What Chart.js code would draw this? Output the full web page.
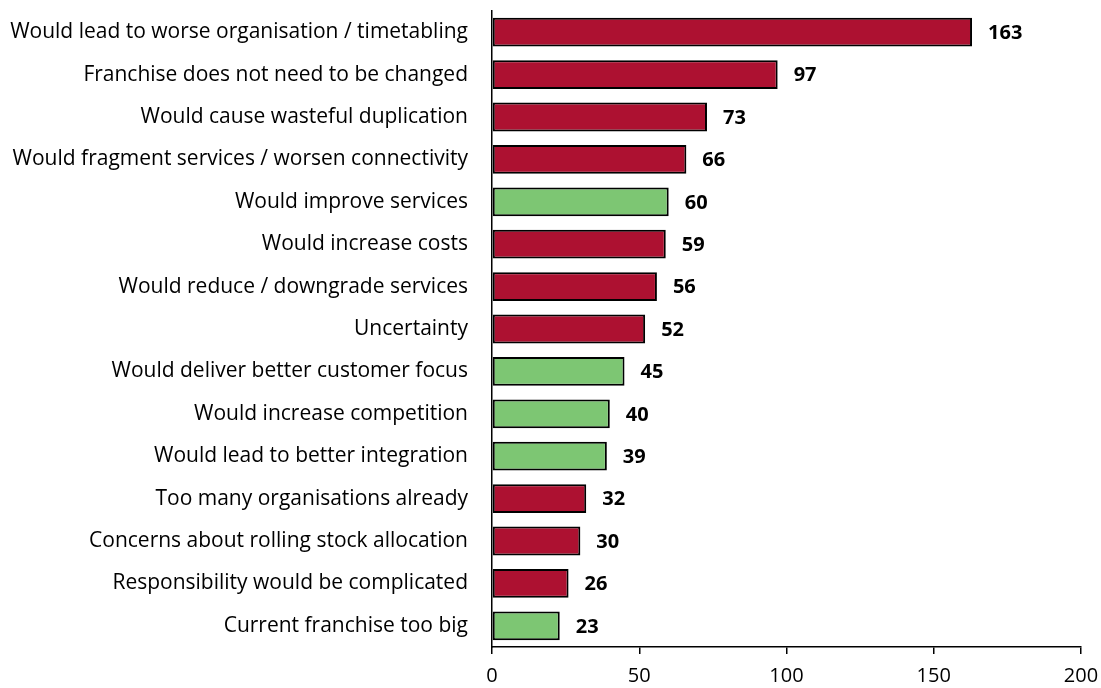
<!DOCTYPE html>
<html lang="en">
<head>
    <meta charset="UTF-8">
    <title>Reasons given about the franchise change</title>
    <script src="https://cdn.jsdelivr.net/npm/chart.js"></script>
    <style>
        html, body { margin: 0; padding: 0; background: #fff; }
        #chartContainer { width: 1101px; height: 688px; position: relative; }
    </style>
</head>
<body>
    <div id="chartContainer">
        <canvas id="reasonsChart"></canvas>
    </div>

    <script>
        // Responses per reason, in the order they are listed
        const reasons = [
            "Would lead to worse organisation / timetabling",
            "Franchise does not need to be changed",
            "Would cause wasteful duplication",
            "Would fragment services / worsen connectivity",
            "Would improve services",
            "Would increase costs",
            "Would reduce / downgrade services",
            "Uncertainty",
            "Would deliver better customer focus",
            "Would increase competition",
            "Would lead to better integration",
            "Too many organisations already",
            "Concerns about rolling stock allocation",
            "Responsibility would be complicated",
            "Current franchise too big"
        ];
        const counts = [163, 97, 73, 66, 60, 59, 56, 52, 45, 40, 39, 32, 30, 26, 23];
        // true = reason in favour (green), false = against (red)
        const inFavour = [false, false, false, false, true, false, false, false, true, true, true, false, false, false, true];
        const xTicks = [0, 50, 100, 150, 200];

        const RED = "#AD1131";
        const GREEN = "#7DC673";
        const FONT = "'Open Sans', 'Noto Sans', sans-serif";

        // Bold count written just past the end of each bar
        const valueLabels = {
            id: "valueLabels",
            afterDatasetsDraw(chart) {
                const ctx = chart.ctx;
                const meta = chart.getDatasetMeta(0);
                ctx.save();
                ctx.font = "bold 20px " + FONT;
                ctx.fillStyle = "#000";
                ctx.textAlign = "left";
                ctx.textBaseline = "middle";
                meta.data.forEach((bar, i) => {
                    ctx.fillText(String(counts[i]), bar.x + 16, bar.y + 1);
                });
                ctx.restore();
            }
        };

        const ctx = document.getElementById("reasonsChart").getContext("2d");
        new Chart(ctx, {
            type: "bar",
            data: {
                labels: reasons,
                datasets: [{
                    data: counts,
                    backgroundColor: inFavour.map(f => f ? GREEN : RED),
                    borderColor: "#000",
                    borderWidth: 2,
                    borderSkipped: false,
                    categoryPercentage: 1.0,
                    barPercentage: 0.68
                }]
            },
            options: {
                indexAxis: "y",
                responsive: true,
                maintainAspectRatio: false,
                animation: false,
                layout: { padding: { top: 11, right: 20, bottom: 0, left: 0 } },
                plugins: {
                    legend: { display: false },
                    tooltip: { enabled: false }
                },
                scales: {
                    x: {
                        min: 0,
                        max: 200,
                        afterBuildTicks: axis => { axis.ticks = xTicks.map(v => ({ value: v })); },
                        afterFit: axis => {
                            axis.height = 41;
                            axis.paddingLeft = 0;
                            axis.paddingRight = 0;
                        },
                        border: { color: "#000", width: 1.5 },
                        grid: { drawOnChartArea: false, drawTicks: true, tickLength: 7, color: "#000", lineWidth: 1.5 },
                        ticks: { color: "#000", font: { family: FONT, size: 20 }, padding: 10, maxRotation: 0 }
                    },
                    y: {
                        afterFit: axis => {
                            axis.width = 492;
                            axis.paddingTop = 0;
                            axis.paddingBottom = 0;
                        },
                        border: { color: "#000", width: 1.5 },
                        grid: { display: false },
                        ticks: { color: "#000", font: { family: FONT, size: 21 }, padding: 16, autoSkip: false }
                    }
                }
            },
            plugins: [valueLabels]
        });
    </script>
</body>
</html>
